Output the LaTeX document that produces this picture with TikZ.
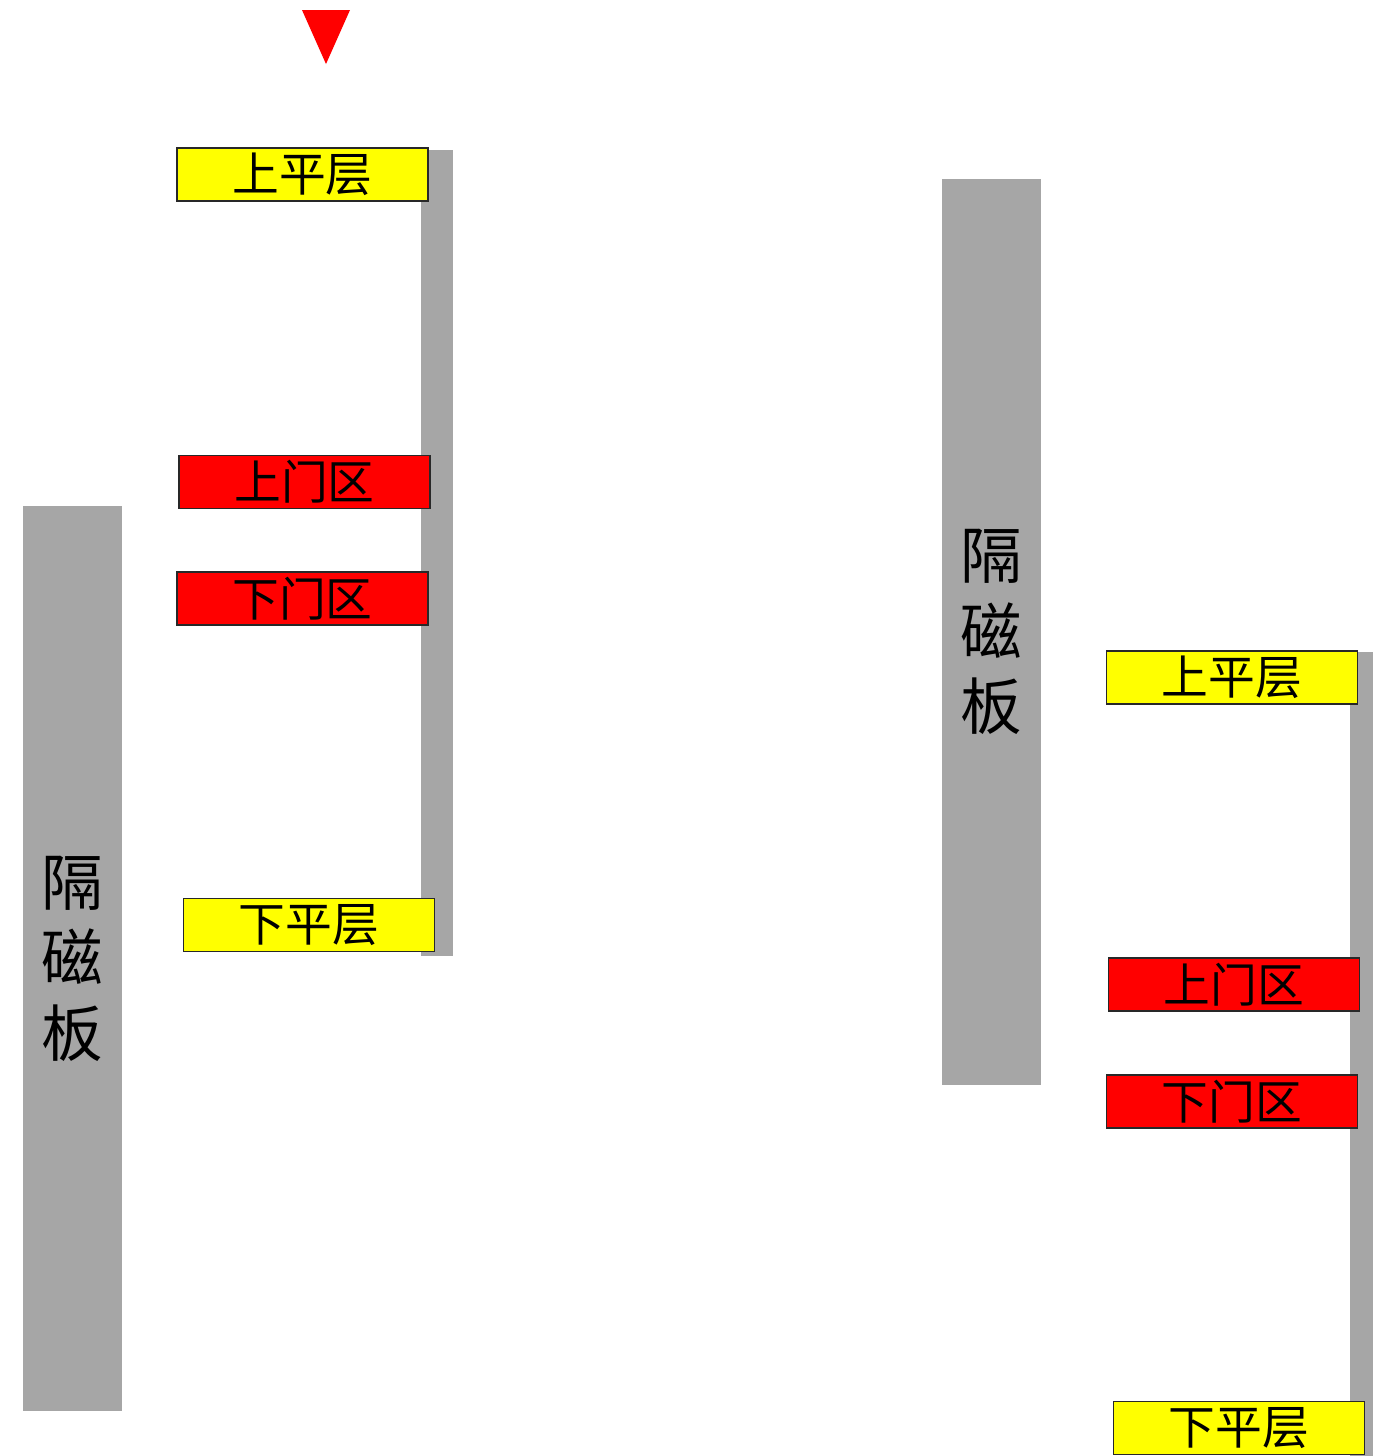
\documentclass[tikz,border=0pt]{standalone}
\usepackage{fontspec}
\setmainfont{Noto Sans CJK SC}
\usepackage{tikz}
\usetikzlibrary{positioning}
\definecolor{plateGray}{RGB}{166, 166, 166}
\definecolor{levelFill}{RGB}{255, 255, 0}
\definecolor{doorFill}{RGB}{255, 0, 0}
\definecolor{edgeLine}{RGB}{40, 40, 40}
\tikzset{
    plate_bar/.style={
        rectangle,
        fill=plateGray,
        inner sep=0pt,
        minimum width=0.99cm,
        minimum height=9.05cm,
        align=center,
        font=\fontsize{17.5}{21.5}\selectfont
    },
    rail_bar/.style={
        rectangle,
        fill=plateGray,
        inner sep=0pt
    },
    level_box/.style={
        rectangle,
        draw=edgeLine,
        line width=0.5pt,
        fill=levelFill,
        inner sep=0pt,
        minimum width=2.51cm,
        minimum height=0.53cm,
        font=\fontsize{13.3}{15}\selectfont
    },
    door_box/.style={
        level_box,
        fill=doorFill
    }
}

\begin{document}
\begin{tikzpicture}[x=0.01cm, y=-0.01cm]
        \useasboundingbox (0,0) rectangle (1373,1456);

        % marker
        \fill[red] (302,10) -- (350,10) -- (326,64) -- cycle;

        % left group
        \node[rail_bar, minimum width=0.32cm, minimum height=8.06cm] (lRail) at (437,553) {};
        \node[plate_bar] (lPlate) at (72.5,958.5) {隔\\磁\\板};
        \node[level_box] (lUpLevel) at (302.5,174.5) {上平层};
        \node[door_box] (lUpDoor) at (304.5,482) {上门区};
        \node[door_box] (lDownDoor) at (302.5,598.5) {下门区};
        \node[level_box] (lDownLevel) at (309,925) {下平层};

        % right group
        \node[rail_bar, minimum width=0.23cm, minimum height=8.04cm] (rRail) at (1361.5,1054) {};
        \node[plate_bar] (rPlate) at (991.5,632) {隔\\磁\\板};
        \node[level_box] (rUpLevel) at (1232,677.5) {上平层};
        \node[door_box] (rUpDoor) at (1234,984.5) {上门区};
        \node[door_box] (rDownDoor) at (1232,1101.5) {下门区};
        \node[level_box] (rDownLevel) at (1239,1428) {下平层};
    \end{tikzpicture}
\end{document}
